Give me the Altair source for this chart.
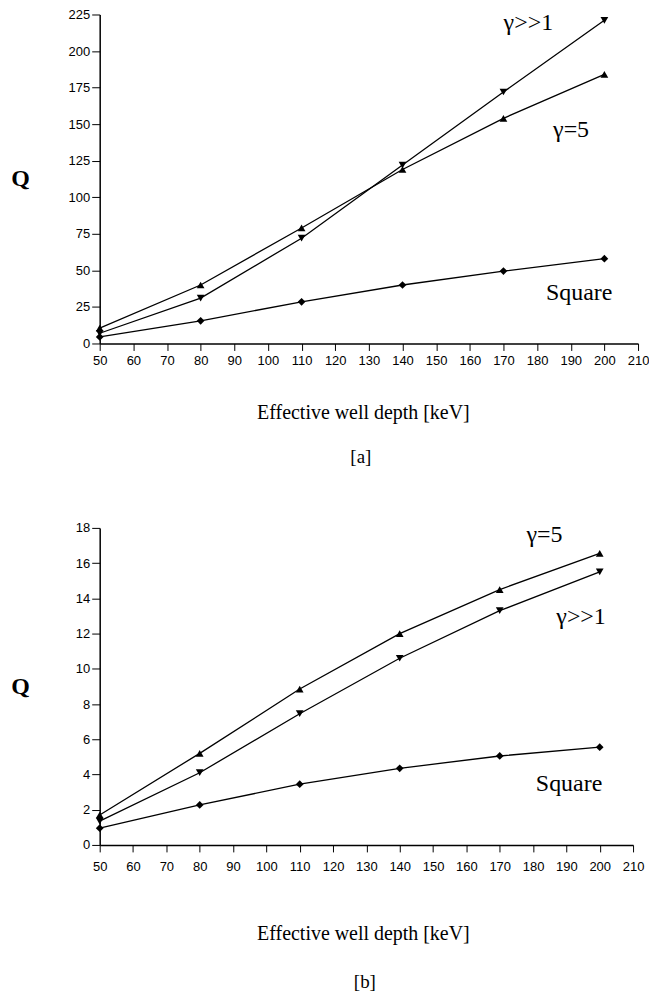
import altair as alt
import pandas as pd

# ---- data ----
depth = [50, 80, 110, 140, 170, 200]
series_names = ["γ>>1", "γ=5", "Square"]

a_gamma_inf = [7, 31, 72, 122, 172, 221]
a_gamma5 = [10.5, 40, 79, 119, 154, 184]
a_square = [4.5, 15.5, 28.5, 40, 49.5, 58]

b_gamma_inf = [1.35, 4.1, 7.45, 10.6, 13.3, 15.5]
b_gamma5 = [1.7, 5.2, 8.85, 12.0, 14.5, 16.55]
b_square = [0.95, 2.27, 3.45, 4.35, 5.05, 5.55]

x_ticks = list(range(50, 211, 10))
a_y_ticks = list(range(0, 226, 25))
b_y_ticks = list(range(0, 19, 2))

a_label_text = ["γ>>1", "γ=5", "Square"]
a_label_x = [177.4, 190.1, 192.5]
a_label_y = [218.9, 145.9, 34.8]

b_label_text = ["γ=5", "γ>>1", "Square"]
b_label_x = [183.4, 194.4, 190.8]
b_label_y = [17.6, 12.96, 3.45]


def long_df(gi, g5, sq):
    rows = []
    for name, vals in zip(series_names, [gi, g5, sq]):
        for d, v in zip(depth, vals):
            rows.append({"depth": d, "Q": v, "series": name})
    return pd.DataFrame(rows)


AX = dict(
    grid=False, domainColor="black", domainWidth=1.5, tickColor="black", tickWidth=1,
    labelFont="Liberation Sans", labelFontSize=13, labelColor="black",
    titleFont="Liberation Serif", titleColor="black",
)


def panel(df, yticks, ymax, lab_t, lab_x, lab_y, W, H, label_pad, title_y, tag, tag_x, tag_y):
    xenc = alt.X(
        "depth:Q",
        scale=alt.Scale(domain=[50, 210], nice=False, zero=False),
        axis=alt.Axis(
            values=x_ticks, title="Effective well depth [keV]", titleY=title_y,
            titleX=264, titleBaseline="middle", titleFontSize=20, titleFontWeight="normal",
            tickSize=7, labelPadding=label_pad, labelFlush=False, **AX,
        ),
    )
    yenc = alt.Y(
        "Q:Q",
        scale=alt.Scale(domain=[0, ymax], nice=False),
        axis=alt.Axis(
            values=yticks, title="Q", titleAngle=0, titleX=-80, titleY=H / 2,
            titleBaseline="middle", titleAlign="center", titleFontSize=24,
            titleFontWeight="bold", tickSize=8, labelPadding=2, **AX,
        ),
    )
    base = alt.Chart(df)
    lines = base.mark_line(color="black", strokeWidth=1.3).encode(
        x=xenc, y=yenc, detail="series:N"
    )
    points = base.mark_point(filled=True, color="black", opacity=1).encode(
        x=xenc, y=yenc,
        shape=alt.Shape("series:N", scale=alt.Scale(domain=series_names,
                        range=["triangle-down", "triangle-up", "diamond"]), legend=None),
        size=alt.Size("series:N", scale=alt.Scale(domain=series_names,
                      range=[60, 60, 35]), legend=None),
    )
    ldf = pd.DataFrame({"depth": lab_x, "Q": lab_y, "t": lab_t})
    labels = alt.Chart(ldf).mark_text(
        font="Liberation Serif", fontSize=24, color="black", align="center", baseline="middle"
    ).encode(x=xenc, y=yenc, text="t:N")
    tdf = pd.DataFrame({"t": [tag]})
    tagm = alt.Chart(tdf).mark_text(
        font="Liberation Serif", fontSize=19, color="black", align="center", baseline="middle"
    ).encode(x=alt.value(tag_x), y=alt.value(tag_y), text="t:N")
    return alt.layer(lines, points, labels, tagm).properties(width=W, height=H)


pa = panel(long_df(a_gamma_inf, a_gamma5, a_square), a_y_ticks, 225,
           a_label_text, a_label_x, a_label_y, 540, 330, 4, 69, "[a]", 262, 444)
pb = panel(long_df(b_gamma_inf, b_gamma5, b_square), b_y_ticks, 18,
           b_label_text, b_label_x, b_label_y, 535, 318, 9, 89, "[b]", 266, 456)

chart = alt.vconcat(pa, pb, spacing=55).properties(
    padding={"left": 10, "top": 7, "right": 0, "bottom": 0},
    background="white",
).configure_view(stroke=None)

chart.save("out.html", embed_options={"renderer": "svg", "actions": False})
